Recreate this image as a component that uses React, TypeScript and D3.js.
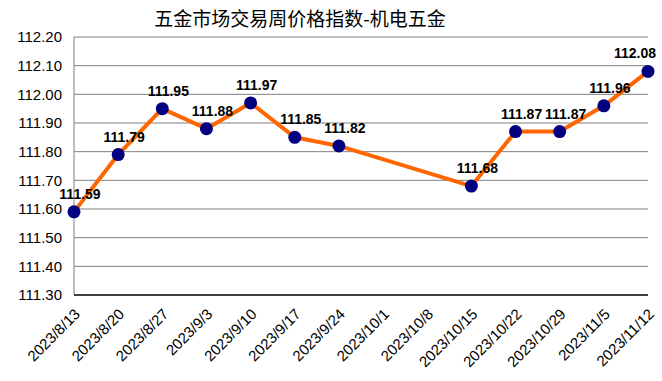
import React from "react";
import * as d3 from "d3";

const title = "五金市场交易周价格指数-机电五金";
const categories = [
  "2023/8/13", "2023/8/20", "2023/8/27", "2023/9/3", "2023/9/10", "2023/9/17", "2023/9/24",
  "2023/10/1", "2023/10/8", "2023/10/15", "2023/10/22", "2023/10/29", "2023/11/5", "2023/11/12",
];
const values: (number | null)[] = [
  111.59, 111.79, 111.95, 111.88, 111.97, 111.85, 111.82,
  null, null, 111.68, 111.87, 111.87, 111.96, 112.08,
];
const yTicks = [111.3, 111.4, 111.5, 111.6, 111.7, 111.8, 111.9, 112.0, 112.1, 112.2];

const W = 662, H = 381;
const left = 74, right = 648, top = 37, bottom = 295;

export default function App() {
  const x = d3.scalePoint<string>().domain(categories).range([left, right]).padding(0);
  const y = d3.scaleLinear().domain([111.3, 112.2]).range([bottom, top]);
  const pts = categories
    .map((c, i) => ({ c, v: values[i] }))
    .filter((d) => d.v !== null) as { c: string; v: number }[];
  const line = d3.line<{ c: string; v: number }>().x((d) => x(d.c)!).y((d) => y(d.v));
  return (
    <svg width={W} height={H} style={{ position: "absolute", left: 0, top: 0, background: "#fff" }}
      fontFamily="Arial, 'Liberation Sans', sans-serif">
      <rect width={W} height={H} fill="#fff" />
      <text x={300} y={26} textAnchor="middle" fontSize={19}
        fontFamily="'Noto Sans CJK SC', sans-serif" fill="#000">{title}</text>
      {yTicks.map((t) => (
        <g key={t}>
          {t > 111.3 && <line x1={left} x2={right} y1={y(t)} y2={y(t)} stroke="#808080" strokeWidth={1} />}
          <text x={62} y={y(t)} dy="0.35em" textAnchor="end" fontSize={15} fill="#000">{t.toFixed(2)}</text>
        </g>
      ))}
      <line x1={left} x2={left} y1={top} y2={bottom} stroke="#808080" strokeWidth={1} />
      <line x1={left} x2={right} y1={bottom} y2={bottom} stroke="#000" strokeWidth={1.5} />
      {categories.map((c) => (
        <text key={c} transform={`translate(${x(c)! + 7},${bottom + 20}) rotate(-45)`}
          textAnchor="end" fontSize={15} fill="#000">{c}</text>
      ))}
      <path d={line(pts) ?? ""} fill="none" stroke="#FF6600" strokeWidth={4} strokeLinejoin="round" />
      {pts.map((d) => (
        <circle key={d.c} cx={x(d.c)} cy={y(d.v)} r={6.5} fill="#000080" />
      ))}
      {pts.map((d) => (
        <text key={"l" + d.c} x={Math.min(x(d.c)! + 6, 635)} y={y(d.v) - 13} textAnchor="middle" fontSize={14}
          fontWeight="bold" fill="#000">{d.v.toFixed(2)}</text>
      ))}
    </svg>
  );
}
